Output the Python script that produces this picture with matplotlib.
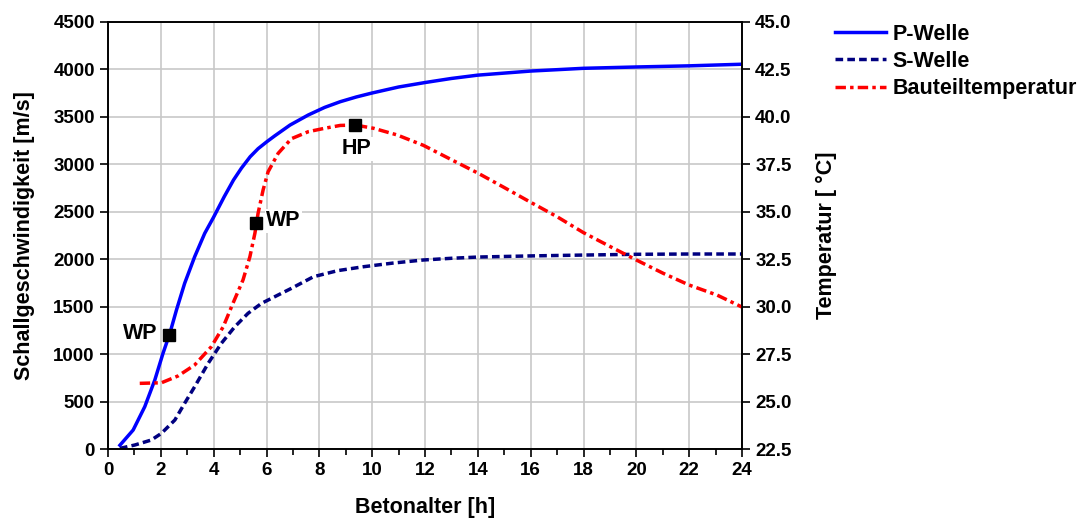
import matplotlib.pyplot as plt
import numpy as np

plt.rcParams['font.family'] = ['Liberation Sans', 'DejaVu Sans']
plt.rcParams['font.weight'] = 'bold'
plt.rcParams['axes.labelweight'] = 'bold'

# P-Welle (m/s)
p_age = [0.45, 0.95, 1.39, 1.77, 2.08, 2.34, 2.59, 2.9, 3.28, 3.66, 3.99, 4.4, 4.75,
         5.05, 5.38, 5.68, 6.01, 6.31, 6.89, 7.58, 8.2, 8.79, 9.4, 10.0, 11.0, 12.0,
         13.0, 14.0, 16.0, 18.0, 20.0, 22.0, 24.0]
p_vel = [40, 200, 446, 727, 1008, 1219, 1465, 1746, 2027, 2273, 2440, 2660, 2835,
         2960, 3080, 3165, 3238, 3300, 3414, 3520, 3600, 3660, 3710, 3752, 3815, 3862,
         3905, 3940, 3983, 4012, 4026, 4038, 4055]

# S-Welle (m/s)
s_age = [0.45, 1.01, 1.64, 2.02, 2.53, 2.9, 3.28, 3.79, 4.29, 4.8, 5.3, 5.81, 6.31,
         6.94, 7.78, 8.7, 9.67, 10.8, 11.94, 13.0, 14.0, 16.0, 18.0, 20.0, 22.0, 24.0]
s_vel = [7, 42, 95, 165, 306, 482, 657, 903, 1114, 1289, 1430, 1535, 1605,
         1693, 1816, 1880, 1921, 1960, 1992, 2010, 2023, 2035, 2044, 2052, 2055, 2055]

# Bauteiltemperatur (degC)
t_age = [1.2, 2.02, 2.65, 3.28, 3.91, 4.36, 4.73, 5.11, 5.37, 5.56, 5.68, 5.87, 6.06,
         6.44, 6.94, 7.58, 8.2, 8.79, 9.36, 10.05, 10.94, 11.94, 13.02, 14.0, 14.97,
         16.0, 17.0, 18.0, 19.02, 20.0, 21.03, 22.0, 23.06, 24.0]
t_temp = [25.96, 25.99, 26.35, 26.93, 27.89, 28.94, 30.18, 31.41, 32.63, 33.87, 34.92,
          36.15, 37.11, 38.08, 38.85, 39.22, 39.4, 39.55, 39.57, 39.4, 39.05, 38.5,
          37.73, 37.04, 36.3, 35.5, 34.74, 33.9, 33.16, 32.46, 31.75, 31.14, 30.61, 29.98]

# Markierungen
wp1 = (2.32, 1200)
wp2 = (5.6, 34.42)
hp = (9.36, 39.57)

fig = plt.figure(figsize=(10.87, 5.2), dpi=100)
ax1 = fig.add_axes([0.0994, 0.1365, 0.5832, 0.8212])
ax2 = ax1.twinx()

l1, = ax1.plot(p_age, p_vel, color='#0000ff', linewidth=2.5, label='P-Welle')
l2, = ax1.plot(s_age, s_vel, color='#000080', linewidth=2.5, linestyle=(0, (2.2, 1.2)),
               label='S-Welle')
l3, = ax2.plot(t_age, t_temp, color='#ff0000', linewidth=2.5,
               linestyle=(0, (3, 1.2, 1, 1.2)), label='Bauteiltemperatur')

ax1.plot(*wp1, marker='s', color='black', markersize=8, zorder=5)
ax2.plot(*wp2, marker='s', color='black', markersize=8, zorder=5)
ax2.plot(*hp, marker='s', color='black', markersize=8, zorder=5)

box = dict(facecolor='white', edgecolor='none', pad=1)
ax1.text(wp1[0] - 0.45, wp1[1] + 20, 'WP', ha='right', va='center', fontsize=15.5, bbox=box)
ax2.text(wp2[0] + 0.38, wp2[1] + 0.1, 'WP', ha='left', va='center', fontsize=15.5, bbox=box)
ax2.text(hp[0] + 0.05, hp[1] - 1.25, 'HP', ha='center', va='center', fontsize=15.5, bbox=box)

ax1.set_xlim(0, 24)
ax1.set_ylim(0, 4500)
ax2.set_ylim(22.5, 45.0)
ax1.set_xticks(np.arange(0, 25, 2))
ax1.set_xticks(np.arange(1, 24, 2), minor=True)
ax1.set_yticks(np.arange(0, 4501, 500))
ax2.set_yticks(np.arange(22.5, 45.1, 2.5))
ax2.set_yticklabels([f'{v:.1f}' for v in np.arange(22.5, 45.1, 2.5)])

ax1.grid(True, color='#c8c8c8', linewidth=1.2)
ax1.set_axisbelow(True)
ax1.tick_params(direction='out', length=6, width=1.2, labelsize=13.5)
ax1.tick_params(which='minor', direction='out', length=4, width=1.2)
ax2.tick_params(direction='out', length=6, width=1.2, labelsize=13.5)
for a in (ax1, ax2):
    for s in a.spines.values():
        s.set_linewidth(1.2)

ax1.set_xlabel('Betonalter [h]', fontsize=15.5)
ax1.set_ylabel('Schallgeschwindigkeit [m/s]', fontsize=15.5)
ax2.set_ylabel('Temperatur [ °C]', fontsize=15.5)
ax1.xaxis.set_label_coords(0.5, -0.112)
ax1.yaxis.set_label_coords(-0.115, 0.5)
ax2.yaxis.set_label_coords(1.117, 0.5)

fig.legend(handles=[l1, l2, l3], loc='upper left', bbox_to_anchor=(0.750, 0.992),
           frameon=False, fontsize=15.5, handlelength=2.4, handletextpad=0.3,
           labelspacing=0.3)

fig.savefig('out.png', dpi=100)
